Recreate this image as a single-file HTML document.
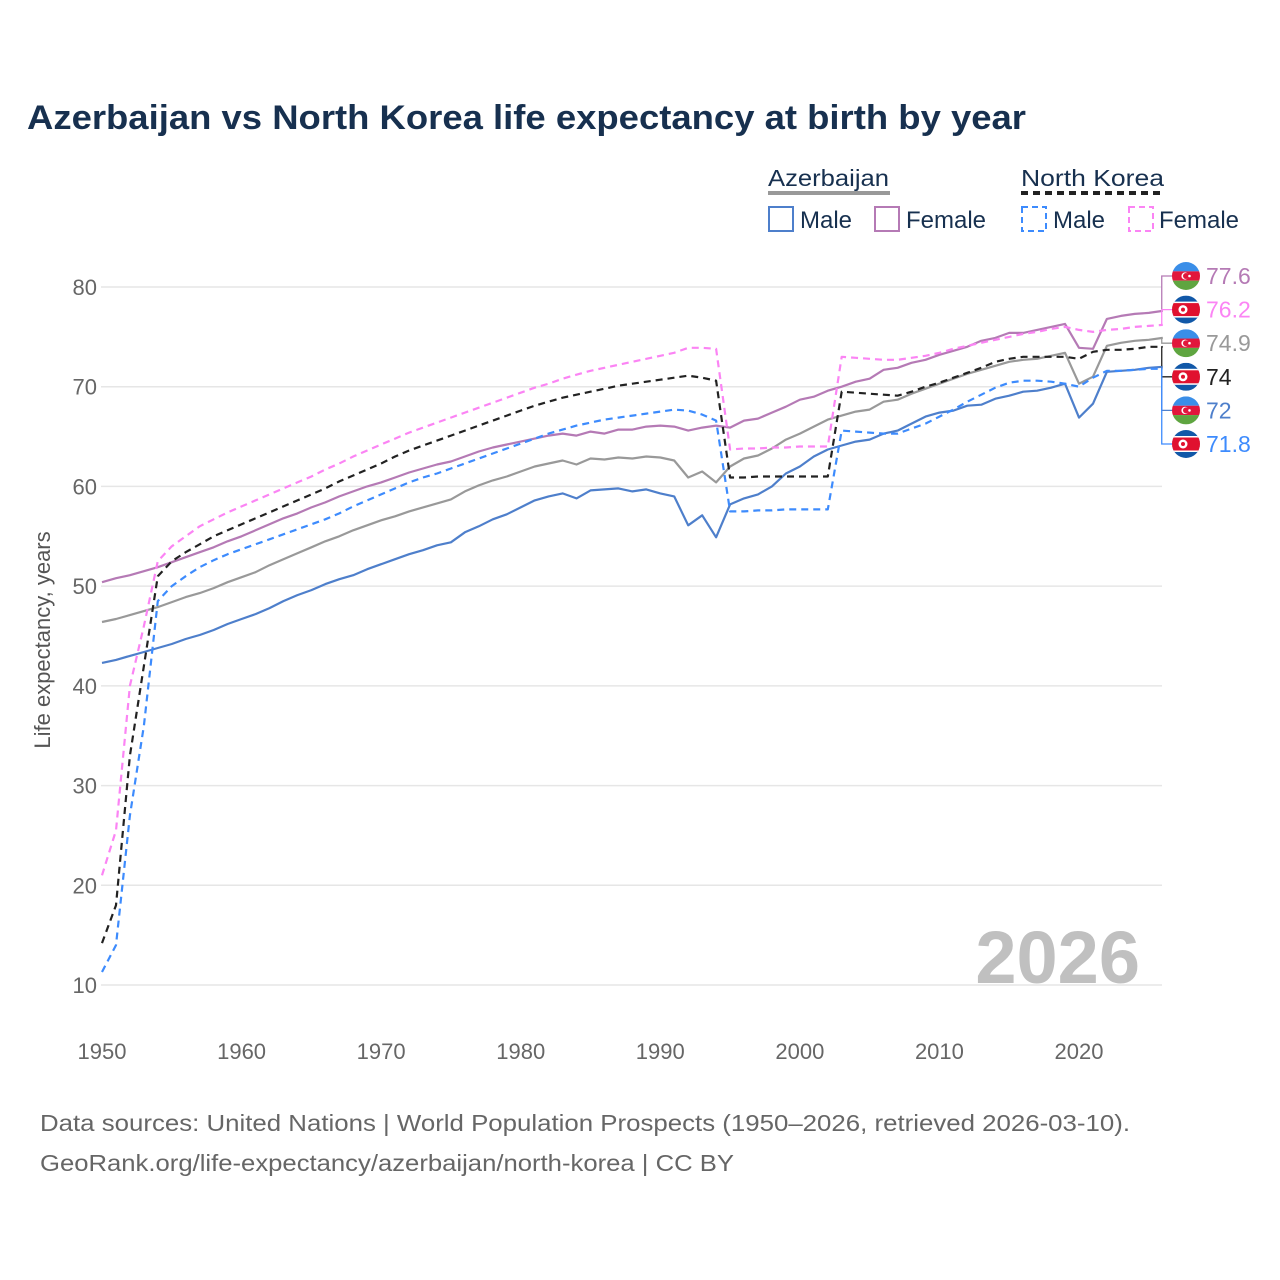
<!DOCTYPE html>
<html><head><meta charset="utf-8"><style>
html,body{margin:0;padding:0;background:#fff;}
svg{display:block;font-family:"Liberation Sans",sans-serif;}
</style></head><body>
<svg id="chart" width="1280" height="1280" viewBox="0 0 1280 1280">
<text x="27" y="129" font-size="34" font-weight="bold" fill="#17304f" textLength="999" lengthAdjust="spacingAndGlyphs">Azerbaijan vs North Korea life expectancy at birth by year</text>
<g>
<text x="768" y="186" font-size="23" fill="#17304f" textLength="121" lengthAdjust="spacingAndGlyphs">Azerbaijan</text>
<line x1="768" y1="193" x2="890" y2="193" stroke="#999" stroke-width="4"/>
<text x="1021" y="186" font-size="23" fill="#17304f" textLength="143" lengthAdjust="spacingAndGlyphs">North Korea</text>
<line x1="1021" y1="193" x2="1164" y2="193" stroke="#222" stroke-width="4" stroke-dasharray="7,5"/>
<g><rect x="769" y="207" width="24" height="24" fill="none" stroke="#4e7fcb" stroke-width="2"/><text x="800" y="228" font-size="24" fill="#17304f">Male</text></g>
<g><rect x="875" y="207" width="24" height="24" fill="none" stroke="#b57ab5" stroke-width="2"/><text x="906" y="228" font-size="24" fill="#17304f">Female</text></g>
<g><rect x="1022" y="207" width="24" height="24" fill="none" stroke="#3d8bfd" stroke-width="2" stroke-dasharray="6,4"/><text x="1053" y="228" font-size="24" fill="#17304f">Male</text></g>
<g><rect x="1129" y="207" width="24" height="24" fill="none" stroke="#fb84f4" stroke-width="2" stroke-dasharray="6,4"/><text x="1159" y="228" font-size="24" fill="#17304f">Female</text></g>
</g>
<g id="grid"></g>
<g id="axes"></g>
<text x="1140" y="983" font-size="74" font-weight="bold" fill="#c0c0c0" text-anchor="end">2026</text>
<text transform="translate(50,640) rotate(-90)" font-size="22" fill="#555" text-anchor="middle">Life expectancy, years</text>
<g id="series"></g>
<g id="labels"></g>
<text x="40" y="1131" font-size="23" fill="#666" textLength="1090" lengthAdjust="spacingAndGlyphs">Data sources: United Nations | World Population Prospects (1950–2026, retrieved 2026-03-10).</text>
<text x="40" y="1171" font-size="23" fill="#666" textLength="694" lengthAdjust="spacingAndGlyphs">GeoRank.org/life-expectancy/azerbaijan/north-korea | CC BY</text>
</svg>
<script>
const startYear = 1950;
const xTicks = [1950,1960,1970,1980,1990,2000,2010,2020];
const yTicks = [10,20,30,40,50,60,70,80];
const azMale = [42.3,42.6,43.0,43.4,43.8,44.2,44.7,45.1,45.6,46.2,46.7,47.2,47.8,48.5,49.1,49.6,50.2,50.7,51.1,51.7,52.2,52.7,53.2,53.6,54.1,54.4,55.4,56.0,56.7,57.2,57.9,58.6,59.0,59.3,58.8,59.6,59.7,59.8,59.5,59.7,59.3,59.0,56.1,57.1,54.9,58.2,58.8,59.2,60.0,61.3,62.0,63.0,63.7,64.1,64.5,64.7,65.3,65.6,66.3,67.0,67.4,67.6,68.1,68.2,68.8,69.1,69.5,69.6,69.9,70.3,66.9,68.3,71.5,71.6,71.7,71.9,72.0];
const azFemale = [50.4,50.8,51.1,51.5,51.9,52.4,52.9,53.4,53.9,54.5,55.0,55.6,56.2,56.8,57.3,57.9,58.4,59.0,59.5,60.0,60.4,60.9,61.4,61.8,62.2,62.5,63.0,63.5,63.9,64.2,64.5,64.8,65.1,65.3,65.1,65.5,65.3,65.7,65.7,66.0,66.1,66.0,65.6,65.9,66.1,65.9,66.6,66.8,67.4,68.0,68.7,69.0,69.6,70.0,70.5,70.8,71.7,71.9,72.4,72.7,73.2,73.6,74.0,74.6,74.9,75.4,75.4,75.7,76.0,76.3,73.9,73.8,76.8,77.1,77.3,77.4,77.6];
const azBoth = [46.4,46.7,47.1,47.5,47.9,48.4,48.9,49.3,49.8,50.4,50.9,51.4,52.1,52.7,53.3,53.9,54.5,55.0,55.6,56.1,56.6,57.0,57.5,57.9,58.3,58.7,59.5,60.1,60.6,61.0,61.5,62.0,62.3,62.6,62.2,62.8,62.7,62.9,62.8,63.0,62.9,62.6,60.9,61.5,60.4,62.0,62.8,63.1,63.8,64.7,65.3,66.0,66.7,67.1,67.5,67.7,68.5,68.7,69.3,69.8,70.3,70.8,71.3,71.7,72.1,72.5,72.7,72.8,73.1,73.4,70.3,71.0,74.1,74.4,74.6,74.7,74.9];
const nkFemale = [21.0,25.5,40.0,46.0,52.5,54.0,55.0,56.0,56.7,57.4,58.0,58.6,59.2,59.8,60.4,61.0,61.7,62.3,63.0,63.6,64.2,64.8,65.4,65.9,66.4,66.9,67.4,67.9,68.4,68.9,69.4,69.9,70.3,70.8,71.2,71.6,71.9,72.2,72.5,72.8,73.1,73.4,73.9,73.9,73.8,63.7,63.8,63.8,63.9,63.9,64.0,64.0,64.0,73.0,72.9,72.8,72.7,72.7,72.9,73.1,73.4,73.8,74.1,74.4,74.7,75.0,75.3,75.5,75.8,76.0,75.7,75.5,75.7,75.8,76.0,76.1,76.2];
const nkBoth = [14.2,18.0,33.0,42.0,51.0,52.5,53.4,54.2,55.0,55.6,56.2,56.8,57.4,58.0,58.6,59.2,59.8,60.5,61.1,61.7,62.3,63.0,63.6,64.1,64.6,65.1,65.6,66.1,66.6,67.1,67.6,68.1,68.5,68.9,69.2,69.5,69.8,70.1,70.3,70.5,70.7,70.9,71.1,70.9,70.6,60.9,60.9,61.0,61.0,61.0,61.0,61.0,61.0,69.5,69.4,69.3,69.2,69.1,69.5,70.0,70.4,70.9,71.4,71.9,72.5,72.8,73.0,73.0,73.0,73.0,72.8,73.5,73.7,73.7,73.8,74.0,74.0];
const nkMale = [11.3,14.0,27.0,36.0,48.5,50.0,51.0,51.9,52.6,53.2,53.7,54.2,54.7,55.2,55.7,56.2,56.7,57.3,58.0,58.6,59.2,59.8,60.4,60.9,61.3,61.8,62.3,62.8,63.3,63.8,64.3,64.8,65.3,65.7,66.1,66.4,66.7,66.9,67.1,67.3,67.5,67.7,67.6,67.2,66.6,57.5,57.5,57.6,57.6,57.7,57.7,57.7,57.7,65.6,65.5,65.4,65.3,65.3,65.8,66.3,67.0,67.7,68.5,69.2,69.9,70.4,70.6,70.6,70.5,70.3,70.0,70.9,71.6,71.6,71.7,71.8,71.8];

const NS = 'http://www.w3.org/2000/svg';
const X0 = 102, X1 = 1079, Y80 = 287, Y10 = 985;
function xs(yr){ return X0 + (yr - 1950) * (X1 - X0) / 70; }
function ys(v){ return Y10 - (v - 10) * (Y10 - Y80) / 70; }
function mk(tag, attrs, parent){ const e = document.createElementNS(NS, tag); for (const k in attrs) e.setAttribute(k, attrs[k]); parent.appendChild(e); return e; }

const grid = document.getElementById('grid');
const axes = document.getElementById('axes');
yTicks.forEach(t => {
  const l = mk('line', {x1: 101, x2: 1162, y1: ys(t), y2: ys(t), stroke: '#e6e6e6', 'stroke-width': 1.5}, grid);
  
  
  const tx = mk('text', {x: 97, y: ys(t) + 8, 'font-size': 22, fill: '#666', 'text-anchor': 'end'}, axes);
  tx.textContent = t;
  
  
});
xTicks.forEach(t => {
  const tx = mk('text', {x: xs(t), y: 1059, 'font-size': 22, fill: '#666', 'text-anchor': 'middle'}, axes);
  tx.textContent = t;
  
  
});

const seriesG = document.getElementById('series');
const defs = [
  {d: azBoth, c: '#999999', dash: null, n: 'az-both'},
  {d: azMale, c: '#4e7fcb', dash: null, n: 'az-male'},
  {d: azFemale, c: '#b57ab5', dash: null, n: 'az-female'},
  {d: nkMale, c: '#3d8bfd', dash: '7,5', n: 'nk-male'},
  {d: nkFemale, c: '#fb84f4', dash: '7,5', n: 'nk-female'},
  {d: nkBoth, c: '#222222', dash: '7,5', n: 'nk-both'}
];
defs.forEach(s => {
  const pts = s.d.map((v, i) => xs(startYear + i).toFixed(1) + ',' + ys(v).toFixed(1)).join(' ');
  const a = {points: pts, fill: 'none', stroke: s.c, 'stroke-width': 2.2, 'stroke-linejoin': 'round'};
  if (s.dash) a['stroke-dasharray'] = s.dash;
  const p = mk('polyline', a, seriesG);
  
  
});

const labelsG = document.getElementById('labels');
const ends = [
  {d: azFemale, c: '#b57ab5', f: 'az', n: 'az-female'},
  {d: nkFemale, c: '#fb84f4', f: 'nk', n: 'nk-female'},
  {d: azBoth, c: '#999999', f: 'az', n: 'az-both'},
  {d: nkBoth, c: '#222222', f: 'nk', n: 'nk-both'},
  {d: azMale, c: '#4e7fcb', f: 'az', n: 'az-male'},
  {d: nkMale, c: '#3d8bfd', f: 'nk', n: 'nk-male'}
];
const xEnd = xs(startYear + azMale.length - 1);
ends.forEach((e, i) => {
  const v = e.d[e.d.length - 1];
  const ly = 276 + i * 33.6;
  const conn = mk('polyline', {points: xEnd + ',' + ys(v) + ' ' + (xEnd - 1) + ',' + ys(v) + ' ' + (xEnd - 1) + ',' + ly + ' ' + 1174 + ',' + ly, fill: 'none', stroke: e.c, 'stroke-width': 1.3}, labelsG);
  
  
  const g = mk('g', {}, labelsG);
  
  
  const cx = 1186, r = 14;
  const cid = 'clip' + i;
  const cp = mk('clipPath', {id: cid}, g);
  mk('circle', {cx: cx, cy: ly, r: r}, cp);
  const fg = mk('g', {'clip-path': 'url(#' + cid + ')'}, g);
  if (e.f === 'az') {
    mk('rect', {x: cx - r, y: ly - r, width: 2 * r, height: 2 * r / 3, fill: '#3a8ee8'}, fg);
    mk('rect', {x: cx - r, y: ly - r / 3, width: 2 * r, height: 2 * r / 3, fill: '#e1163c'}, fg);
    mk('rect', {x: cx - r, y: ly + r / 3, width: 2 * r, height: 2 * r / 3, fill: '#5fa540'}, fg);
    mk('circle', {cx: cx - 1, cy: ly, r: 3.6, fill: '#fff'}, fg);
    mk('circle', {cx: cx, cy: ly, r: 3, fill: '#e1163c'}, fg);
    mk('circle', {cx: cx + 3.5, cy: ly, r: 1.3, fill: '#fff'}, fg);
  } else {
    mk('rect', {x: cx - r, y: ly - r, width: 2 * r, height: 2 * r, fill: '#1158a8'}, fg);
    mk('rect', {x: cx - r, y: ly - 8, width: 2 * r, height: 16, fill: '#fff'}, fg);
    mk('rect', {x: cx - r, y: ly - 6.5, width: 2 * r, height: 13, fill: '#e0112f'}, fg);
    mk('circle', {cx: cx - 3, cy: ly, r: 4.5, fill: '#fff'}, fg);
    mk('circle', {cx: cx - 3, cy: ly, r: 2, fill: '#e0112f'}, fg);
  }
  const t = mk('text', {x: 1206, y: ly + 8, 'font-size': 23, fill: e.c}, labelsG);
  t.textContent = v;
  
  
});
</script>
</body></html>
